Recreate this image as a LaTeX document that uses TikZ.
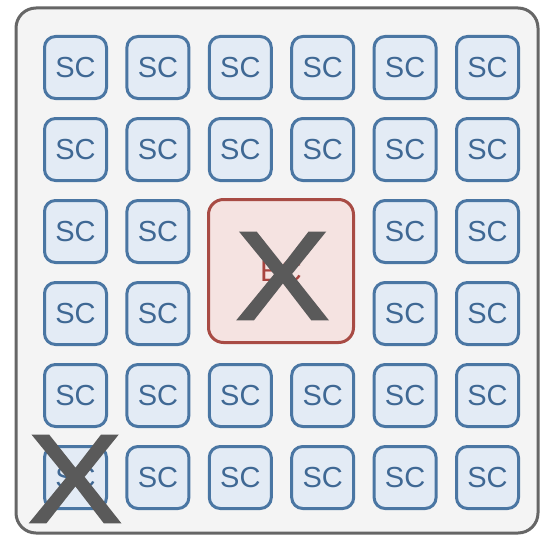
\documentclass[tikz,border=0pt]{standalone}
\usepackage{fontspec}
\setmainfont{Liberation Sans}
\newfontfamily\xfont[FakeBold=1.8]{Liberation Sans}
\definecolor{outerfill}{HTML}{F4F4F4}
\definecolor{outerdraw}{HTML}{666666}
\definecolor{scfill}{HTML}{E3EBF5}
\definecolor{scdraw}{HTML}{4A76A3}
\definecolor{sctext}{HTML}{3F6894}
\definecolor{ecfill}{HTML}{F5E3E1}
\definecolor{ecdraw}{HTML}{A84B44}
\definecolor{ectext}{HTML}{A8443F}
\definecolor{xcol}{HTML}{5A5A5A}
\tikzset{
  sc/.style={draw=scdraw, fill=scfill, line width=3pt, rounded corners=11pt,
    minimum width=62pt, minimum height=62pt, inner sep=0pt,
    text=sctext, font=\fontsize{29}{29}\selectfont},
  ec/.style={draw=ecdraw, fill=ecfill, line width=3pt, rounded corners=15pt,
    minimum width=145pt, minimum height=143pt, inner sep=0pt,
    text=ectext, font=\fontsize{30}{30}\selectfont},
  bigx/.style={text=xcol, inner sep=0pt, xscale=1.12, font=\xfont\fontsize{126}{126}\selectfont},
  outer/.style={draw=outerdraw, fill=outerfill, line width=3pt, rounded corners=20pt}
}
\begin{document}
\begin{tikzpicture}[x=1pt,y=-1pt]
\useasboundingbox (0,0) rectangle (540,535);
\node[outer, minimum width=522pt, minimum height=525pt, inner sep=0pt] (frame) at (277,270.5) {};
\foreach \r in {0,...,5}{
  \foreach \c in {0,...,5}{
    \pgfmathtruncatemacro{\skip}{(\r==2 || \r==3) && (\c==2 || \c==3) ? 1 : 0}
    \ifnum\skip=0
      \node[sc] (sc-\r-\c) at ({75.5+82.4*\c},{67.5+82*\r}) {SC};
    \fi
  }
}
\node[ec] (ec) at (281,271) {EC};
\node[bigx] (xec) at (282.5,276) {X};
\node[bigx] (xsc) at (75,479) {X};
\end{tikzpicture}
\end{document}
